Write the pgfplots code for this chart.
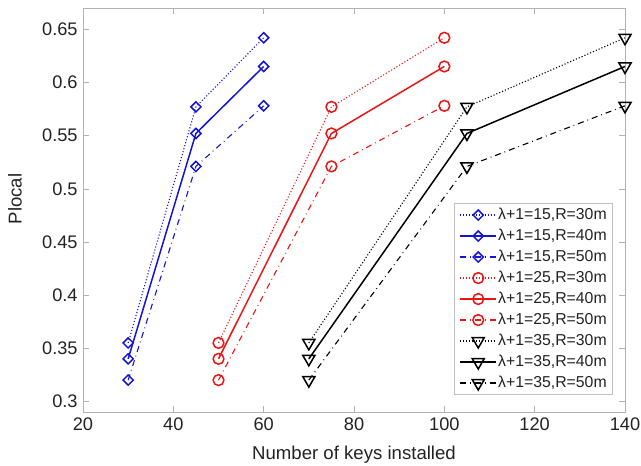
\documentclass[border=0pt]{standalone}
\usepackage{fontspec}
\setmainfont{Liberation Sans}
\usepackage{pgfplots}
\pgfplotsset{compat=1.18}
\definecolor{mblue}{RGB}{20,20,215}
\definecolor{mred}{RGB}{235,20,20}
\definecolor{mtext}{RGB}{35,35,35}
\begin{document}
\begin{tikzpicture}
\begin{axis}[
  scale only axis,
  width=271pt, height=202pt,
  xmin=20, xmax=140, ymin=0.29, ymax=0.67,
  xtick={20,40,60,80,100,120,140},
  ytick={0.3,0.35,0.4,0.45,0.5,0.55,0.6,0.65},
  /pgf/number format/assume math mode=true,
  tick align=inside,
  major tick length=3pt,
  axis line style={gray!60},
  tick style={gray!60},
  ticklabel style={font=\fontsize{9.1}{10}\selectfont, text=mtext},
  xticklabel style={inner sep=0pt, anchor=north, yshift=-2.5pt},
  yticklabel style={inner sep=0pt, anchor=east, xshift=-2.5pt},
  label style={font=\fontsize{9.3}{11}\selectfont, text=mtext},
  xlabel={Number of keys installed},
  ylabel={Plocal},
  xlabel style={at={([yshift=-21.5pt]axis description cs:0.5,0)}, anchor=center},
  ylabel style={at={([xshift=-34pt,yshift=5.5pt]axis description cs:0,0.5)}, anchor=center},
  legend style={at={(0.978,0.517)}, anchor=north east, draw=gray!50,
    font=\fontsize{7.9}{8.5}\selectfont, row sep=2pt, inner xsep=2.5pt, inner ysep=1.5pt,
    nodes={inner sep=0.5pt, text height=6pt, text depth=1.5pt},
    text=mtext},
  legend image code/.code={
    \draw[mark repeat=2,mark phase=2] plot coordinates {(0cm,0cm) (0.32cm,0cm) (0.64cm,0cm)};
  },
  legend cell align=left,
]
% lambda+1 = 15
\addplot[mblue, densely dotted, line width=0.55pt, mark=square, mark size=1.8pt, mark options={solid, rotate=45, line width=0.75pt}]
  coordinates {(30,0.355) (45,0.577) (60,0.642)};
\addlegendentry{λ+1=15,R=30m}
\addplot[mblue, solid, line width=0.75pt, mark=square, mark size=1.8pt, mark options={solid, rotate=45, line width=0.75pt}]
  coordinates {(30,0.340) (45,0.552) (60,0.615)};
\addlegendentry{λ+1=15,R=40m}
\addplot[mblue, dash dot, line width=0.55pt, mark=square, mark size=1.8pt, mark options={solid, rotate=45, line width=0.75pt}]
  coordinates {(30,0.320) (45,0.521) (60,0.578)};
\addlegendentry{λ+1=15,R=50m}
% lambda+1 = 25
\addplot[mred, densely dotted, line width=0.55pt, mark=o, mark size=2.7pt, mark options={solid, line width=0.75pt}]
  coordinates {(50,0.355) (75,0.577) (100,0.642)};
\addlegendentry{λ+1=25,R=30m}
\addplot[mred, solid, line width=0.75pt, mark=o, mark size=2.7pt, mark options={solid, line width=0.75pt}]
  coordinates {(50,0.340) (75,0.552) (100,0.615)};
\addlegendentry{λ+1=25,R=40m}
\addplot[mred, dash dot, line width=0.55pt, mark=o, mark size=2.7pt, mark options={solid, line width=0.75pt}]
  coordinates {(50,0.320) (75,0.521) (100,0.578)};
\addlegendentry{λ+1=25,R=50m}
% lambda+1 = 35
\addplot[black, densely dotted, line width=0.55pt, mark=triangle, mark size=3.5pt, mark options={solid, rotate=180, line width=0.75pt}]
  coordinates {(70,0.355) (105,0.577) (140,0.642)};
\addlegendentry{λ+1=35,R=30m}
\addplot[black, solid, line width=0.75pt, mark=triangle, mark size=3.5pt, mark options={solid, rotate=180, line width=0.75pt}]
  coordinates {(70,0.340) (105,0.552) (140,0.615)};
\addlegendentry{λ+1=35,R=40m}
\addplot[black, dash dot, line width=0.55pt, mark=triangle, mark size=3.5pt, mark options={solid, rotate=180, line width=0.75pt}]
  coordinates {(70,0.320) (105,0.521) (140,0.578)};
\addlegendentry{λ+1=35,R=50m}
\end{axis}
\pgfresetboundingbox
\path[use as bounding box] ([xshift=-41.5pt,yshift=-26.5pt]current axis.south west) rectangle ([xshift=8pt,yshift=4pt]current axis.north east);
\end{tikzpicture}
\end{document}
